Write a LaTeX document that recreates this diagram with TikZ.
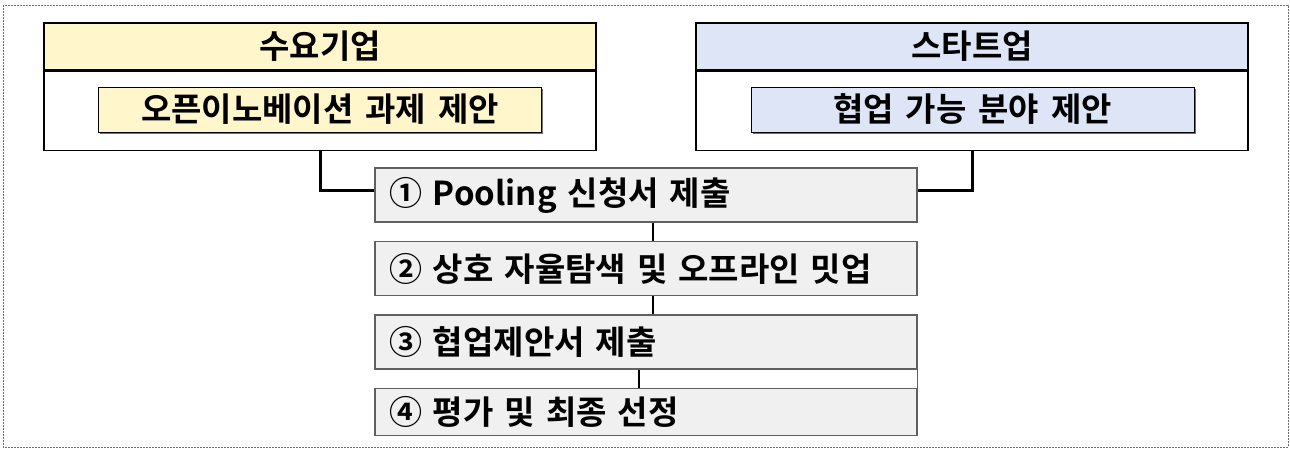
\documentclass[tikz,border=0pt]{standalone}
\usepackage{fontspec}
\setmainfont{Noto Sans CJK KR}[BoldFont={Noto Sans CJK KR Bold}, WordSpace=1.6]
\usepackage{xcolor}
\usetikzlibrary{positioning}
\usetikzlibrary{shadows}
\definecolor{hdyellow}{RGB}{255,246,204}
\definecolor{hdblue}{RGB}{222,229,246}
\definecolor{stepfill}{RGB}{240,240,240}
\definecolor{stepline}{RGB}{96,96,96}
\definecolor{framegray}{RGB}{110,110,110}

\begin{document}
\begin{tikzpicture}[x=1pt,y=-1pt,
  every node/.style={font=\fontsize{33}{38}\selectfont\bfseries, inner sep=0pt},
  headbox/.style={draw=black, line width=1.5pt, minimum width=552pt, minimum height=47pt},
  bodybox/.style={draw=black, line width=1.5pt, fill=white, minimum width=552pt, minimum height=79pt},
  taskbox/.style={draw=black, line width=1pt, minimum width=443pt, minimum height=45pt,
    drop shadow={shadow xshift=1.5pt, shadow yshift=-1.5pt, fill=black!55, opacity=1}},
  stepbox/.style={draw=stepline, fill=stepfill, line width=1.5pt, minimum width=542pt,
    text width=514pt, align=left, minimum height=54pt},
  link/.style={line width=3pt},
  steplink/.style={line width=2pt}]
\useasboundingbox (0,0) rectangle (1290,448);
\draw [framegray, line width=1pt, dash pattern=on 2pt off 1pt] (3,5) rectangle (1288,447);

% demand side
\node [headbox, fill=hdyellow] (demand) at (320,46.5) {수요기업};
\node [bodybox, below=0pt of demand] (demandbody) {};
\node [taskbox, fill=hdyellow] (demandtask) at (320,109.5) {오픈이노베이션 과제 제안};

% startup side
\node [headbox, fill=hdblue] (startup) at (972,46.5) {스타트업};
\node [bodybox, below=0pt of startup] (startupbody) {};
\node [taskbox, fill=hdblue] (startuptask) at (972.5,109.5) {협업 가능 분야 제안};

% steps
\node [stepbox] (pool) at (646,195) {① Pooling 신청서 제출};
\node [stepbox, below=18pt of pool] (meet) {② 상호 자율탐색 및 오프라인 밋업};
\node [stepbox, below=18pt of meet] (propose) {③ 협업제안서 제출};
\node [stepbox, minimum height=47pt, below=18pt of propose] (select) {④ 평가 및 최종 선정};

\draw [link] (demandbody.south) |- ([yshift=5pt]pool.west);
\draw [link] (startupbody.south) |- ([yshift=5pt]pool.east);
\draw [steplink] ([xshift=7pt]pool.south) -- ([xshift=7pt]meet.north);
\draw [steplink] ([xshift=7pt]meet.south) -- ([xshift=7pt]propose.north);
\draw [steplink] ([xshift=-7pt]propose.south) -- ([xshift=-7pt]select.north);
\draw [stepline, line width=1pt] (propose.south east) -- (select.north east);
\end{tikzpicture}
\end{document}
